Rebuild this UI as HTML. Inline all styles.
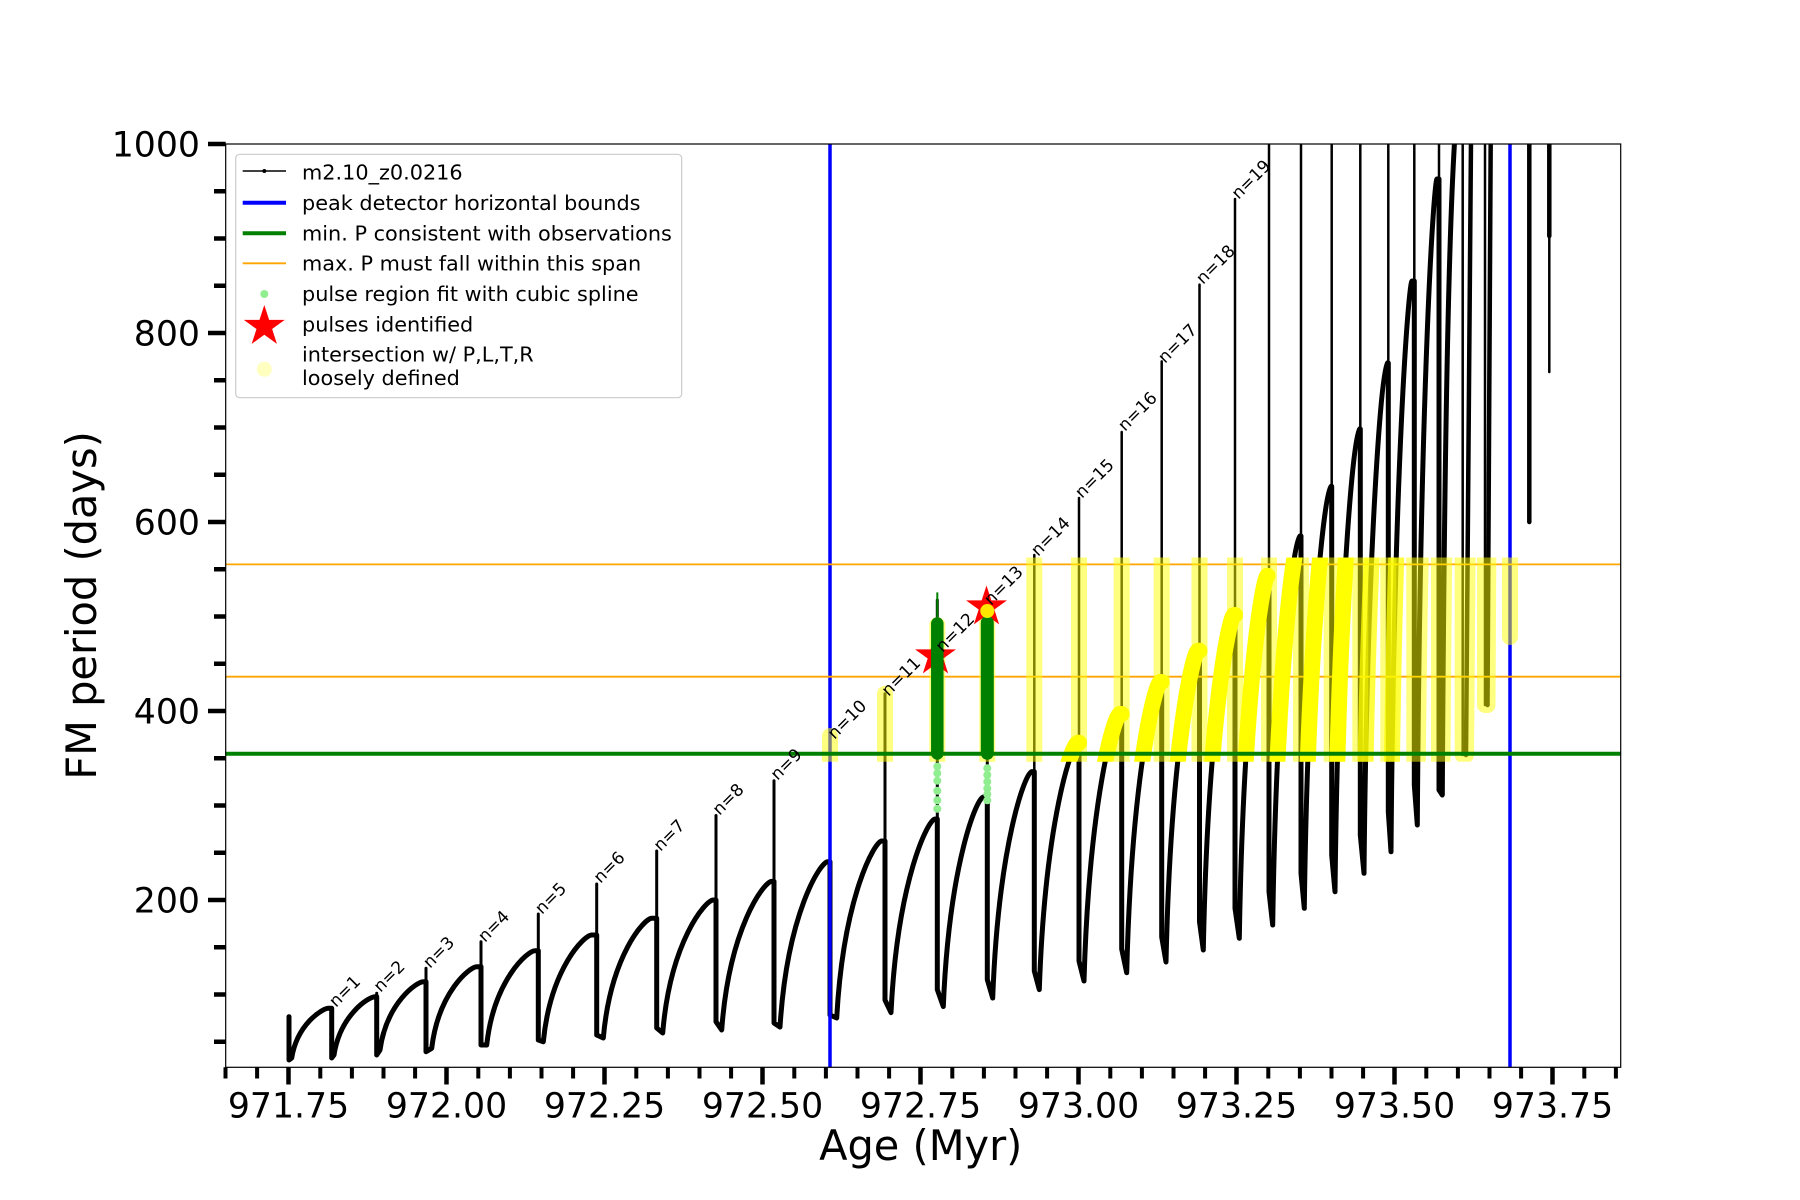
<!DOCTYPE html>
<html>
<head>
<meta charset="utf-8">
<style>
html,body{margin:0;padding:0;background:#fff;}
svg{display:block;}
text{font-family:"DejaVu Sans","Liberation Sans",sans-serif;fill:#000;}
</style>
</head>
<body>
<svg width="1800" height="1200" viewBox="0 0 1800 1200" xmlns="http://www.w3.org/2000/svg">
<defs>
  <clipPath id="ax"><rect x="225.7" y="144" width="1395" height="923.3"/></clipPath>
  <clipPath id="band"><rect x="225.7" y="557.5" width="1395" height="204.2"/></clipPath>
  <path id="star" d="M0,-21.5 L-4.83,-6.64 L-20.45,-6.64 L-7.81,2.54 L-12.64,17.39 L0,8.21 L12.64,17.39 L7.81,2.54 L20.45,-6.64 L4.83,-6.64 Z"/>
</defs>
<rect x="0" y="0" width="1800" height="1200" fill="#fff"/>

<g clip-path="url(#ax)">
  <!-- main black curve -->
  <path fill="none" stroke="#000" stroke-width="5" stroke-linejoin="round" stroke-linecap="round" d="M289,1016.7 L289,1060 L291.7,1058
C297.2,1023.7 322.8,1008.3 328.3,1008.3 L331.7,1008.3 L331.7,1058 L334,1055
C340.15,1014.8 368.85,996.7 375,996.7 L376.7,996.7 L376.7,1055 L380,1050
C386.5,1002.9 416.8,981.7 423.3,981.7 L426,981.7 L426,1051.7 L431.7,1048.3
C438.45,992 469.95,966.7 476.7,966.7 L481,966.7 L481,1045 L486.7,1045
C493.9,979.9 527.8,950.7 535,950.7 L538.3,950.7 L538.3,1040 L543.3,1041.7
C550.6,968.1 584.4,935 591.7,935 L596.7,935 L596.7,1035 L603.3,1038
C610.6,955.4 644.4,918.3 651.7,918.3 L656.7,918.3 L656.7,1028 L662.7,1033
C670.3,941.2 705.7,900 713.3,900 L716,900 L716,1021.7 L721.7,1030
C729.2,927.5 764.2,881.4 771.7,881.4 L774,881.4 L774,1023 L780,1027
C787.2,913 820.5,861.8 827.7,861.8 L830,861.8 L830,1015 L836.7,1018
C843.45,895.9 874.95,841 881.7,841 L885,841 L885,1000 L891,1012.6
C897.6,879 928.4,819 935,819 L937.3,819 L937.3,989.6 L943.3,1006.5
C949.3,862 977.3,797 983.3,797 L987.3,797 L987.3,979.5 L992.7,998
C998.55,841.8 1025.85,771.6 1031.7,771.6 L1034.3,771.6 L1034.3,971 L1039.3,989.6
C1045.1,819.3 1072.2,742.8 1078,742.8 L1079,742.8 L1079,961 L1084,981
C1089.4,796.8 1114.6,714 1120,714 L1121.7,714 L1121.7,949 L1126.7,972.7
C1131.8,772.1 1155.4,682 1160.5,682 L1161.7,682 L1161.7,937 L1166,962
C1170.8,747.2 1193.2,650.7 1198,650.7 L1199.5,650.7 L1199.5,921.7 L1203.3,950
C1207.9,718.9 1229.4,615 1234,615 L1235,615 L1235,908.3 L1239.3,938.3
C1243.5,688.1 1263.3,575.7 1267.5,575.7 L1269,575.7 L1269,891.7 L1272.7,925
C1276.7,656.6 1295.5,536 1299.5,536 L1301,536 L1301,873.3 L1304.3,908.3
C1308.2,617.2 1326.6,486.4 1330.5,486.4 L1331.7,486.4 L1331.7,855 L1335,891.7
C1338.6,572.4 1355.4,429 1359,429 L1360.3,429 L1360.3,835 L1364,873.3
C1367.4,521.2 1383.3,363 1386.7,363 L1388.3,363 L1388.3,811.7 L1391,851.7
C1394.2,457.9 1408.9,281 1412,281 L1414.3,281 L1414.3,785 L1417.3,825
C1420.3,379.3 1434,179 1437,179 L1439,179 L1439,790 L1442.3,795
C1444.5,400 1450,200 1456,120"/>
  <!-- thin spikes (early) -->
  <path fill="none" stroke="#000" stroke-width="3" stroke-linecap="round" d="M376.7,996.7 V993.3 M426,981.7 V968.3 M481,966.7 V941.7 M538.3,950.7 V914 M596.7,935 V884 M656.7,918.3 V851 M716,900 V815.5 M774,881.4 V780.7 M830,861.8 V736 M885,841 V693.8 M937.3,819 V600 M987.3,797 V607"/>
  <!-- thin spikes (later) -->
  <path fill="none" stroke="#000" stroke-width="2.5" stroke-linecap="round" d="M1034.3,771.6 V555 M1079,742.8 V498 M1121.7,714 V432 M1161.7,682 V361.4 M1199.5,650.7 V284.6 M1235,615 V199 M1269,575.7 V140 M1301,536 V140 M1331.7,486.4 V140 M1360.3,429 V140 M1388.3,363 V140 M1414.3,281 V140 M1439,179 V140 M1462.7,140 V755 M1485,140 V705 M1510,140 V637 M1549.3,236 V372"/>
  <!-- thick extras -->
  <path fill="none" stroke="#000" stroke-width="4.5" stroke-linecap="round" d="M1466,755 L1471,140 M1487.5,705 L1490.7,140 M1529.3,140 V522 M1549.3,140 V236"/>

  <!-- blue bounds -->
  <line x1="830" y1="144" x2="830" y2="1068" stroke="#0000ff" stroke-width="3.5"/>
  <line x1="1510" y1="144" x2="1510" y2="1068" stroke="#0000ff" stroke-width="3.5"/>
  <!-- orange span -->
  <line x1="225.7" y1="564.4" x2="1620.7" y2="564.4" stroke="#ffa500" stroke-width="1.8"/>
  <line x1="225.7" y1="676.7" x2="1620.7" y2="676.7" stroke="#ffa500" stroke-width="1.8"/>

  <!-- yellow intersection markers -->
  <g clip-path="url(#band)">
    <path fill="none" stroke="#ffff00" stroke-opacity="0.5" stroke-width="16" stroke-linecap="round" d="M830,736 V1015 M885,693.8 V1000 M937.3,625 V990 M987.3,615 V980 M1034.3,555 V971 M1079,498 V961 M1121.7,432 V949 M1161.7,361 V937 M1199.5,284 V922 M1235,199 V908 M1269,140 V892 M1301,140 V873 M1331.7,140 V855 M1360.3,140 V835 M1388.3,140 V812 M1414.3,140 V785 M1439,140 V790 M1462.7,140 V755 M1466,755 L1471,140 M1485,140 V705 M1487.5,705 L1490.7,140 M1510,140 V637 M1417.3,825 C1420.3,379.3 1434,179 1437,179 M1442.3,795 C1444.5,400 1450,200 1456,120"/>
    <path fill="none" stroke="#ffff00" stroke-width="16" stroke-linecap="round" d="M1039.3,989.6 C1045.1,819.3 1072.2,742.8 1078,742.8 L1079,742.8
M1084,981 C1089.4,796.8 1114.6,714 1120,714 L1121.7,714
M1126.7,972.7 C1131.8,772.1 1155.4,682 1160.5,682 L1161.7,682
M1166,962 C1170.8,747.2 1193.2,650.7 1198,650.7 L1199.5,650.7
M1203.3,950 C1207.9,718.9 1229.4,615 1234,615 L1235,615
M1239.3,938.3 C1243.5,688.1 1263.3,575.7 1267.5,575.7
M1272.7,925 C1276.7,656.6 1295.5,536 1299.5,536
M1304.3,908.3 C1308.2,617.2 1326.6,486.4 1330.5,486.4
M1335,891.7 C1338.6,572.4 1355.4,429 1359,429"/>
    <path fill="none" stroke="#ffff00" stroke-opacity="0.75" stroke-width="16" stroke-linecap="round" d="M1364,873.3 C1367.4,521.2 1383.3,363 1386.7,363 M1391,851.7 C1394.2,457.9 1408.9,281 1412,281"/>
  </g>

  <!-- green min P -->
  <line x1="225.7" y1="753.7" x2="1620.7" y2="753.7" stroke="#008000" stroke-width="4"/>

  <!-- stars -->
  <use href="#star" x="935.5" y="656" fill="#ff0000"/>
  <use href="#star" x="986.5" y="607" fill="#ff0000"/>

  <!-- light green spline points -->
  <g fill="#90ee90">
    <circle cx="937.3" cy="766.5" r="4"/><circle cx="937.3" cy="773.3" r="4"/><circle cx="937.3" cy="780.7" r="4"/>
    <circle cx="937.3" cy="790.8" r="4"/><circle cx="937.3" cy="800.3" r="4"/><circle cx="937.3" cy="808.8" r="4"/>
    <circle cx="987.3" cy="768.2" r="4"/><circle cx="987.3" cy="775" r="4"/><circle cx="987.3" cy="781.7" r="4"/>
    <circle cx="987.3" cy="788.5" r="4"/><circle cx="987.3" cy="794.2" r="4"/><circle cx="987.3" cy="800.3" r="4"/>
  </g>
  <!-- dark green pulse regions -->
  <line x1="937.3" y1="592.4" x2="937.3" y2="625" stroke="#008000" stroke-width="2"/>
  <line x1="937.3" y1="623.5" x2="937.3" y2="753.5" stroke="#008000" stroke-width="12.5" stroke-linecap="round"/>
  <line x1="987.3" y1="622.5" x2="987.3" y2="753.3" stroke="#008000" stroke-width="13" stroke-linecap="round"/>
  <circle cx="987.3" cy="611" r="7" fill="#ffff00" fill-opacity="0.9"/>
</g>

<!-- n labels -->
<g font-size="17">
  <text transform="translate(336,1008) rotate(-45)">n=1</text>
  <text transform="translate(380.5,993) rotate(-45)">n=2</text>
  <text transform="translate(430,969) rotate(-45)">n=3</text>
  <text transform="translate(485,943) rotate(-45)">n=4</text>
  <text transform="translate(542,915) rotate(-45)">n=5</text>
  <text transform="translate(600.5,884) rotate(-45)">n=6</text>
  <text transform="translate(660.5,852) rotate(-45)">n=7</text>
  <text transform="translate(719.5,816) rotate(-45)">n=8</text>
  <text transform="translate(777.5,781) rotate(-45)">n=9</text>
  <text transform="translate(834.5,740) rotate(-45)">n=10</text>
  <text transform="translate(888.5,697) rotate(-45)">n=11</text>
  <text transform="translate(942.5,653) rotate(-45)">n=12</text>
  <text transform="translate(991,606) rotate(-45)">n=13</text>
  <text transform="translate(1038,557) rotate(-45)">n=14</text>
  <text transform="translate(1082,499) rotate(-45)">n=15</text>
  <text transform="translate(1125,432) rotate(-45)">n=16</text>
  <text transform="translate(1165,364) rotate(-45)">n=17</text>
  <text transform="translate(1203,285) rotate(-45)">n=18</text>
  <text transform="translate(1238.5,200) rotate(-45)">n=19</text>
</g>

<!-- spines -->
<rect x="225.7" y="144" width="1395" height="923.3" fill="none" stroke="#000" stroke-width="1.2"/>

<!-- x ticks -->
<g stroke="#000" stroke-width="4">
  <path d="M225.5,1067.3 V1078.5 M257.1,1067.3 V1078.5 M320.3,1067.3 V1078.5 M351.9,1067.3 V1078.5 M383.5,1067.3 V1078.5 M415.1,1067.3 V1078.5 M478.3,1067.3 V1078.5 M509.9,1067.3 V1078.5 M541.5,1067.3 V1078.5 M573.1,1067.3 V1078.5 M636.3,1067.3 V1078.5 M667.9,1067.3 V1078.5 M699.5,1067.3 V1078.5 M731.1,1067.3 V1078.5 M794.3,1067.3 V1078.5 M825.9,1067.3 V1078.5 M857.5,1067.3 V1078.5 M889.1,1067.3 V1078.5 M952.3,1067.3 V1078.5 M983.9,1067.3 V1078.5 M1015.5,1067.3 V1078.5 M1047.1,1067.3 V1078.5 M1110.3,1067.3 V1078.5 M1141.9,1067.3 V1078.5 M1173.5,1067.3 V1078.5 M1205.1,1067.3 V1078.5 M1268.3,1067.3 V1078.5 M1299.9,1067.3 V1078.5 M1331.5,1067.3 V1078.5 M1363.1,1067.3 V1078.5 M1426.3,1067.3 V1078.5 M1457.9,1067.3 V1078.5 M1489.5,1067.3 V1078.5 M1521.1,1067.3 V1078.5 M1584.3,1067.3 V1078.5 M1615.9,1067.3 V1078.5"/>
  <path stroke-width="4.5" d="M288.5,1067.3 V1084.5 M446.5,1067.3 V1084.5 M604.5,1067.3 V1084.5 M762.5,1067.3 V1084.5 M920.5,1067.3 V1084.5 M1078.5,1067.3 V1084.5 M1236.5,1067.3 V1084.5 M1394.5,1067.3 V1084.5 M1552.5,1067.3 V1084.5"/>
</g>
<g font-size="34.7" text-anchor="middle">
  <text x="288.5" y="1117.3">971.75</text>
  <text x="446.5" y="1117.3">972.00</text>
  <text x="604.5" y="1117.3">972.25</text>
  <text x="762.5" y="1117.3">972.50</text>
  <text x="920.5" y="1117.3">972.75</text>
  <text x="1078.5" y="1117.3">973.00</text>
  <text x="1236.5" y="1117.3">973.25</text>
  <text x="1394.5" y="1117.3">973.50</text>
  <text x="1552.5" y="1117.3">973.75</text>
</g>

<!-- y ticks -->
<g stroke="#000" stroke-width="4.5">
  <path d="M214,191.25 H225.7 M214,238.5 H225.7 M214,285.75 H225.7 M214,380.25 H225.7 M214,427.5 H225.7 M214,474.75 H225.7 M214,569.25 H225.7 M214,616.5 H225.7 M214,663.75 H225.7 M214,758.25 H225.7 M214,805.5 H225.7 M214,852.75 H225.7 M214,947.25 H225.7 M214,994.5 H225.7 M214,1041.75 H225.7"/>
  <path d="M208,144 H225.7 M208,333 H225.7 M208,522 H225.7 M208,711 H225.7 M208,900 H225.7"/>
</g>
<g font-size="34.7" text-anchor="end">
  <text x="200" y="156.5">1000</text>
  <text x="200" y="345.5">800</text>
  <text x="200" y="534.5">600</text>
  <text x="200" y="723.5">400</text>
  <text x="200" y="912.5">200</text>
</g>

<!-- axis labels -->
<text x="920.7" y="1160" font-size="41.5" text-anchor="middle">Age (Myr)</text>
<text transform="translate(96,605.5) rotate(-90)" font-size="41.5" text-anchor="middle">FM period (days)</text>

<!-- legend -->
<rect x="235.7" y="154.3" width="446" height="243.4" rx="4" ry="4" fill="#fff" fill-opacity="0.8" stroke="#cccccc" stroke-width="1.2"/>
<line x1="242.7" y1="171" x2="286" y2="171" stroke="#000" stroke-width="1.5"/>
<circle cx="264.3" cy="171" r="2" fill="#000"/>
<line x1="242.7" y1="202.7" x2="286" y2="202.7" stroke="#0000ff" stroke-width="4"/>
<line x1="242.7" y1="233.3" x2="286" y2="233.3" stroke="#008000" stroke-width="4"/>
<line x1="242.7" y1="263.3" x2="286" y2="263.3" stroke="#ffa500" stroke-width="1.8"/>
<circle cx="264.3" cy="294" r="4" fill="#90ee90"/>
<use href="#star" x="264.3" y="326.5" fill="#ff0000"/>
<circle cx="264.3" cy="369.3" r="7.5" fill="#ffff00" fill-opacity="0.25"/>
<g font-size="20.8">
  <text x="302" y="179.3">m2.10_z0.0216</text>
  <text x="302" y="210">peak detector horizontal bounds</text>
  <text x="302" y="240.5">min. P consistent with observations</text>
  <text x="302" y="270.7">max. P must fall within this span</text>
  <text x="302" y="301">pulse region fit with cubic spline</text>
  <text x="302" y="331.3">pulses identified</text>
  <text x="302" y="361.7">intersection w/ P,L,T,R</text>
  <text x="302" y="385">loosely defined</text>
</g>
</svg>
</body>
</html>
